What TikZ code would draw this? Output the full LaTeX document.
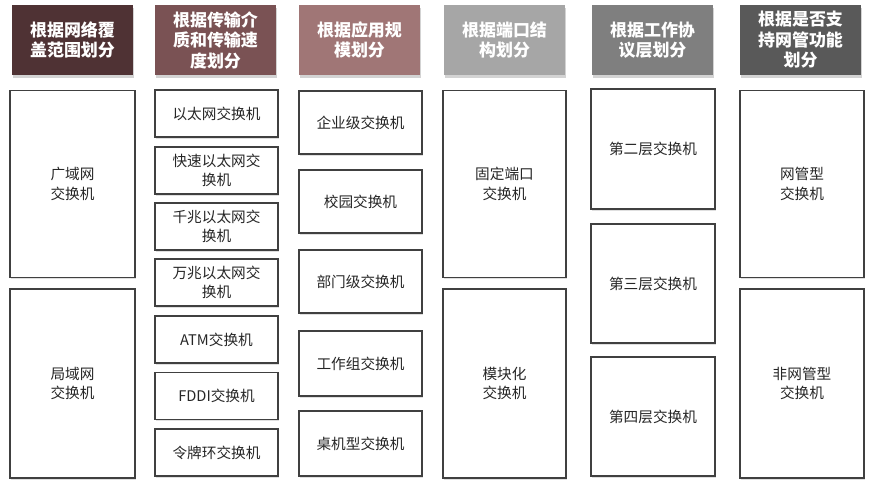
\documentclass[tikz,border=0pt]{standalone}
\usepackage{fontspec}
\setmainfont{Noto Sans CJK SC}
\usepackage{xcolor}
\usetikzlibrary{shadows}
\definecolor{hdA}{HTML}{4F3234}
\definecolor{hdB}{HTML}{7A5254}
\definecolor{hdC}{HTML}{A07676}
\definecolor{hdD}{HTML}{A6A6A6}
\definecolor{hdE}{HTML}{7F7F7F}
\definecolor{hdF}{HTML}{595959}
\begin{document}
\begin{tikzpicture}[
    x=0.03cm, y=-0.03cm,
    head/.style={rectangle, minimum width=3.63cm, minimum height=2.1cm, align=center, text=white, font=\fontsize{14.5}{17.5}\selectfont\bfseries, drop shadow={opacity=0.35, shadow xshift=0.5pt, shadow yshift=-2.5pt}},
    cell/.style={rectangle, draw=black!75, line width=0.9pt, fill=white, align=center, text=black!85, font=\fontsize{12.5}{16.5}\selectfont, drop shadow={opacity=0.25, shadow xshift=1pt, shadow yshift=-1.5pt}},
    big/.style={cell, minimum width=3.75cm, minimum height=5.6cm},
    small/.style={cell, minimum width=3.69cm, minimum height=1.41cm},
    mid/.style={cell, minimum width=3.69cm, minimum height=1.89cm},
    tall/.style={cell, minimum width=3.72cm, minimum height=3.6cm}
]
    \useasboundingbox (0,0) rectangle (880,487);

    % header row
    \node[head, fill=hdA] (hcover) at (72.5,40) {根据网络覆\\盖范围划分};
    \node[head, fill=hdB] (hmedia) at (215.5,40) {根据传输介\\质和传输速\\度划分};
    \node[head, fill=hdC] (hscale) at (359.5,40) {根据应用规\\模划分};
    \node[head, fill=hdD] (hport) at (504.5,40) {根据端口结\\构划分};
    \node[head, fill=hdE] (hlayer) at (652.5,40) {根据工作协\\议层划分};
    \node[head, fill=hdF] (hmanage) at (800.5,40) {根据是否支\\持网管功能\\划分};

    % column 1
    \node[big] (wan) at (72.5,184) {广域网\\交换机};
    \node[big, minimum height=5.67cm] (lan) at (72.5,383.5) {局域网\\交换机};

    % column 2
    \node[small] (eth) at (216.5,113.5) {以太网交换机};
    \node[small] (feth) at (216.5,170.5) {快速以太网交\\换机};
    \node[small] (geth) at (216.5,226.5) {千兆以太网交\\换机};
    \node[small] (xeth) at (216.5,282.5) {万兆以太网交\\换机};
    \node[small] (atm) at (216.5,339.5) {ATM交换机};
    \node[small] (fddi) at (216.5,396) {FDDI交换机};
    \node[small] (token) at (216.5,452.5) {令牌环交换机};

    % column 3
    \node[mid] (ent) at (360.5,122.5) {企业级交换机};
    \node[mid] (campus) at (360.5,201.5) {校园交换机};
    \node[mid] (dept) at (360.5,281.5) {部门级交换机};
    \node[mid, minimum height=1.95cm] (group) at (360.5,363.5) {工作组交换机};
    \node[mid, minimum height=1.95cm] (desk) at (360.5,443.5) {桌机型交换机};

    % column 4
    \node[big, minimum width=3.69cm] (fixed) at (504.5,184) {固定端口\\交换机};
    \node[big, minimum width=3.69cm, minimum height=5.67cm] (modular) at (504.5,383.5) {模块化\\交换机};

    % column 5
    \node[tall] (layer2) at (653,149) {第二层交换机};
    \node[tall, minimum height=3.57cm] (layer3) at (653,283.5) {第三层交换机};
    \node[tall, minimum height=3.57cm] (layer4) at (653,416.5) {第四层交换机};

    % column 6
    \node[big, minimum width=3.72cm] (managed) at (802,184) {网管型\\交换机};
    \node[big, minimum width=3.72cm, minimum height=5.67cm] (unmanaged) at (802,383.5) {非网管型\\交换机};
\end{tikzpicture}
\end{document}
